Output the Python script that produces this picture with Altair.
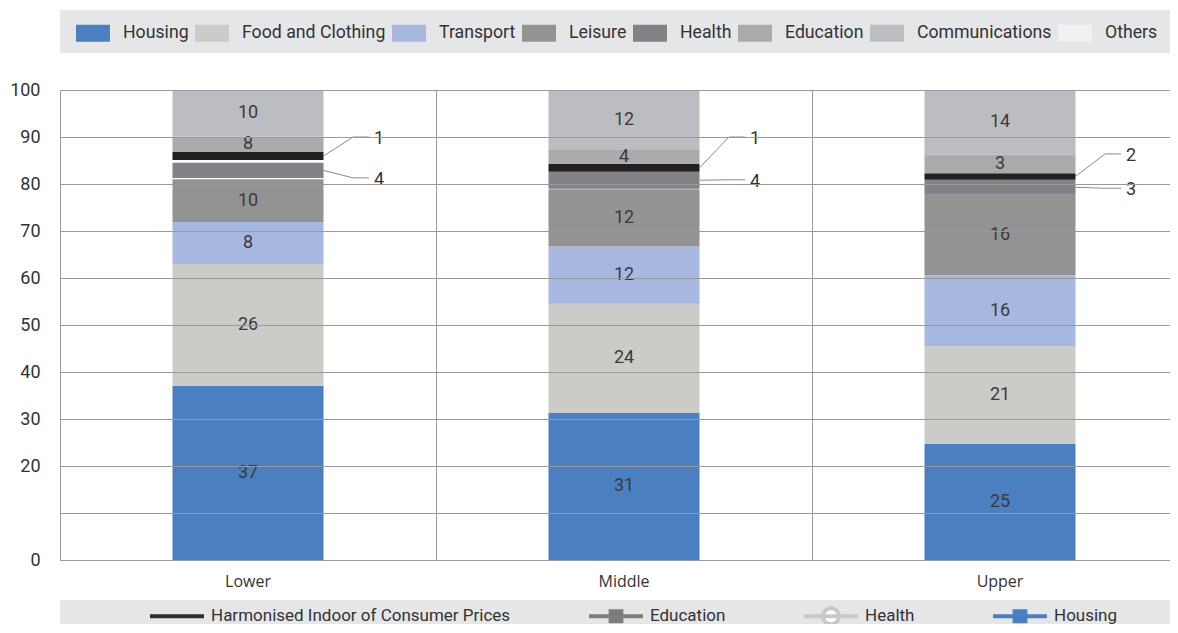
import altair as alt
import pandas as pd

# ---------------- data ----------------
groups = ["Lower", "Middle", "Upper"]
parts = ["Housing", "Food and Clothing", "Transport", "Leisure", "Health",
         "Harmonised Indoor of Consumer Prices", "Education", "Communications"]

# segment bounds as drawn (percent)
lower_from = [0, 37.0, 63.0, 71.9, 81.3, 85.1, 86.8, 90.1]
lower_to = [37.0, 63.0, 71.9, 81.0, 84.5, 86.8, 90.1, 100]
middle_from = [0, 31.3, 54.5, 66.7, 79.0, 82.6, 84.3, 87.4]
middle_to = [31.3, 54.5, 66.7, 78.9, 82.6, 84.3, 87.4, 100]
upper_from = [0, 24.7, 45.5, 60.6, 77.7, 80.9, 82.3, 86.2]
upper_to = [24.7, 45.5, 60.6, 77.7, 80.9, 82.3, 86.2, 100]

# printed value labels
lower_labels = [37, 26, 8, 10, 4, 1, 8, 10]
middle_labels = [31, 24, 12, 12, 4, 1, 4, 12]
upper_labels = [25, 21, 16, 16, 3, 2, 3, 14]

# level (percent) of the call-out labels for small segments
callout_top_level = [90.0, 90.0, 86.4]
callout_bottom_level = [81.3, 80.9, 79.1]

legend_parts = ["Housing", "Food and Clothing", "Transport", "Leisure", "Health",
                "Education", "Communications", "Others"]
legend_colors = ["#4a80c0", "#cbcbc8", "#a6b8df", "#939393", "#818286",
                 "#a9aaac", "#bcbdc0", "#f0f1f3"]
hicp_name = "Harmonised Indoor of Consumer Prices"
hicp_color = "#231f20"

line_series = ["Harmonised Indoor of Consumer Prices", "Education", "Health", "Housing"]
line_strokes = ["#2e2e2e", "#7d7d7d", "#c6c8c9", "#4a80c0"]
line_fills = ["#2e2e2e", "#7d7d7d", "#ffffff", "#4a80c0"]

# ---------------- tables ----------------
froms = [lower_from, middle_from, upper_from]
tos = [lower_to, middle_to, upper_to]
labs = [lower_labels, middle_labels, upper_labels]
rows = []
for g, f, t, l in zip(groups, froms, tos, labs):
    for p, a, b, v in zip(parts, f, t, l):
        rows.append({"group": g, "part": p, "from": a, "to": b,
                     "mid": (a + b) / 2, "label": str(v)})
seg = pd.DataFrame(rows)

crow = []
for i, g in enumerate(groups):
    hi = parts.index(hicp_name)
    he = parts.index("Health")
    crow.append({"group": g, "seg_mid": (froms[i][hi] + tos[i][hi]) / 2,
                 "level": callout_top_level[i], "label": str(labs[i][hi])})
    crow.append({"group": g, "seg_mid": (froms[i][he] + tos[i][he]) / 2,
                 "level": callout_bottom_level[i], "label": str(labs[i][he])})
callouts = pd.DataFrame(crow)

legend_df = pd.DataFrame({"series": line_series})
one = pd.DataFrame({"k": [0]})

FONT = "Roboto"
TXT = "#333333"
GRID = "#9a9a9a"
W = 1128      # plot width (runs past the right edge, as in the original)
BOX_W = 1110  # visible width of the grey legend panels

x_enc = alt.X("group:N", sort=groups, title=None,
              scale=alt.Scale(paddingInner=0, paddingOuter=0),
              axis=alt.Axis(grid=True, bandPosition=0, gridColor=GRID, ticks=False,
                            domainColor=GRID, labelAngle=0, labelPadding=13,
                            labelFont="Open Sans", labelFontSize=16, labelColor=TXT))
y_enc = alt.Y("from:Q", title=None,
              scale=alt.Scale(domain=[0, 100], nice=False, zero=True),
              axis=alt.Axis(values=list(range(0, 101, 10)),
                            labelExpr="datum.value == 10 ? '' : datum.label",
                            grid=True, gridColor=GRID, ticks=False, domainColor=GRID,
                            labelPadding=20, labelFont=FONT, labelFontSize=18,
                            labelColor=TXT, zindex=1))

top_box = alt.Chart(one).mark_rect(color="#e5e6e8").encode(
    x=alt.value(0), x2=alt.value(BOX_W), y=alt.value(-80), y2=alt.value(-37))
bottom_box = alt.Chart(one).mark_rect(color="#e5e6e8").encode(
    x=alt.value(0), x2=alt.value(BOX_W), y=alt.value(510), y2=alt.value(540))

bars = alt.Chart(seg).mark_bar(size=151).encode(
    x=x_enc, y=y_enc, y2="to:Q",
    color=alt.Color("part:N",
                    scale=alt.Scale(domain=legend_parts + [hicp_name],
                                    range=legend_colors + [hicp_color]),
                    legend=alt.Legend(values=legend_parts, orient="none", legendX=16,
                                      legendY=-74, direction="horizontal", title=None,
                                      symbolType="M-1,-0.5H1V0.5H-1Z", symbolSize=1156,
                                      symbolStrokeWidth=0, symbolOpacity=1,
                                      labelFont=FONT, labelFontSize=17.7, labelColor=TXT,
                                      labelOffset=13, columnPadding=6, labelLimit=400)))

inner_text = alt.Chart(seg).transform_filter(
    "datum.part != 'Health' && datum.part != '" + hicp_name + "'"
).mark_text(font=FONT, fontSize=18, color="#3a3a3a", baseline="middle").encode(
    x=alt.X("group:N", sort=groups), y="mid:Q", text="label:N")

diag = alt.Chart(callouts).mark_rule(color="#8a8a8a", strokeWidth=1,
                                     xOffset=75.5, x2Offset=105).encode(
    x=alt.X("group:N", sort=groups), x2="group:N", y="seg_mid:Q", y2="level:Q")
flat = alt.Chart(callouts).mark_rule(color="#8a8a8a", strokeWidth=1,
                                     xOffset=105, x2Offset=121).encode(
    x=alt.X("group:N", sort=groups), x2="group:N", y="level:Q", y2="level:Q")
call_text = alt.Chart(callouts).mark_text(font=FONT, fontSize=18, color=TXT, dx=131,
                                          dy=2, baseline="middle").encode(
    x=alt.X("group:N", sort=groups), y="level:Q", text="label:N")

pad = "M0,-0.35M0,0.35"
paths = ["M-1,0H1" + pad,
         "M-1,0H1M-0.2,-0.185H0.2V0.185H-0.2Z" + pad,
         "M-1,0H1M0.3,0A0.3,0.3 0 1,1 -0.3,0A0.3,0.3 0 1,1 0.3,0Z" + pad,
         "M-1,0H1M-0.2,-0.185H0.2V0.185H-0.2Z" + pad]
leg2 = alt.Legend(orient="none", legendX=88, legendY=497, direction="horizontal",
                  title=None, symbolStrokeWidth=4, symbolOpacity=1, symbolSize=2916,
                  labelFont=FONT, labelFontSize=17, labelColor=TXT, labelOffset=5,
                  columnPadding=70, labelLimit=400)
line_legend = alt.Chart(legend_df).transform_filter("false").mark_point(
    size=2916, strokeWidth=4, opacity=1).encode(
    fill=alt.Fill("series:N", scale=alt.Scale(domain=line_series, range=line_fills), legend=leg2),
    stroke=alt.Stroke("series:N", scale=alt.Scale(domain=line_series, range=line_strokes), legend=leg2),
    shape=alt.Shape("series:N", scale=alt.Scale(domain=line_series, range=paths), legend=leg2))

chart = alt.layer(top_box, bottom_box, bars, inner_text, diag, flat, call_text,
                  line_legend).properties(
    width=W, height=470,
    autosize=alt.AutoSizeParams(type="none"),
    padding={"left": 52, "top": 82, "right": BOX_W - W, "bottom": 64},
).configure_view(fill="#f5f9fc", stroke=None)

chart.save("out.html", embed_options={"renderer": "svg", "actions": False})
